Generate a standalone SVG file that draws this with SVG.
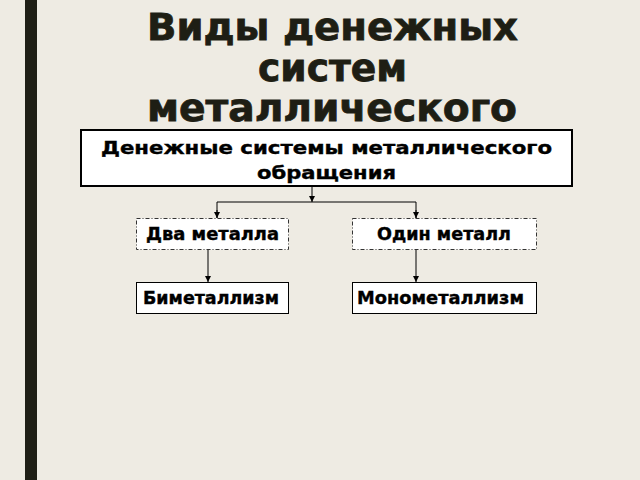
<svg xmlns="http://www.w3.org/2000/svg" width="640" height="480" viewBox="0 0 640 480">
<style>
.title{font-family:"DejaVu Sans",Verdana,sans-serif;font-weight:bold;font-size:37px;fill:#1e1e14;stroke:#1e1e14;stroke-width:0.8}
.lbl{font-family:"DejaVu Sans",Verdana,sans-serif;font-weight:bold;font-size:18px;fill:#000;stroke:#000;stroke-width:0.4}
.solid{fill:#fff;stroke:#000;stroke-width:1}
.thick{fill:#fff;stroke:#000;stroke-width:2}
.dash{fill:#fff;stroke:#333;stroke-width:1;stroke-dasharray:4 2 1 2}
.conn{fill:none;stroke:#000;stroke-width:1}
</style>
<defs>
<marker id="ah" viewBox="0 0 6 6" refX="6" refY="3" markerWidth="6" markerHeight="6" orient="auto" markerUnits="userSpaceOnUse">
<path d="M0,0 L6,3 L0,6 Z" fill="#000"/>
</marker>
</defs>
<rect x="0" y="0" width="640" height="480" fill="#eeebe3"/>
<rect x="25" y="0" width="12" height="480" fill="#1f1f16"/>
<g id="title">
<text class="title" x="147" y="40" textLength="371" lengthAdjust="spacingAndGlyphs">Виды денежных</text>
<text class="title" x="258" y="81" textLength="149" lengthAdjust="spacingAndGlyphs">систем</text>
<text class="title" x="147" y="121" textLength="370" lengthAdjust="spacingAndGlyphs">металлического</text>
</g>
<g id="connectors">
<path class="conn" d="M312,186 V202" marker-end="url(#ah)"/>
<path class="conn" d="M217,218 V202 H416 V218"/>
<path class="conn" d="M217,210 V218" marker-end="url(#ah)"/>
<path class="conn" d="M416,210 V218" marker-end="url(#ah)"/>
<path class="conn" d="M208,250 V282" marker-end="url(#ah)"/>
<path class="conn" d="M416,250 V282" marker-end="url(#ah)"/>
</g>
<g id="n-root">
<rect class="thick" x="81" y="130" width="491" height="56"/>
<text class="lbl" x="101" y="154" textLength="451" lengthAdjust="spacingAndGlyphs">Денежные системы металлического</text>
<text class="lbl" x="257" y="179" textLength="139" lengthAdjust="spacingAndGlyphs">обращения</text>
</g>
<g id="n-two">
<rect class="dash" x="136.5" y="218.5" width="152" height="31"/>
<text class="lbl" x="146" y="240" textLength="133" lengthAdjust="spacingAndGlyphs">Два металла</text>
</g>
<g id="n-one">
<rect class="dash" x="352.5" y="218.5" width="184" height="31"/>
<text class="lbl" x="377" y="240" textLength="134" lengthAdjust="spacingAndGlyphs">Один металл</text>
</g>
<g id="n-bi">
<rect class="solid" x="136.5" y="282.5" width="152" height="31"/>
<text class="lbl" x="143" y="304" textLength="136" lengthAdjust="spacingAndGlyphs">Биметаллизм</text>
</g>
<g id="n-mono">
<rect class="solid" x="352.5" y="282.5" width="184" height="31"/>
<text class="lbl" x="357" y="304" textLength="167" lengthAdjust="spacingAndGlyphs">Монометаллизм</text>
</g>
</svg>
